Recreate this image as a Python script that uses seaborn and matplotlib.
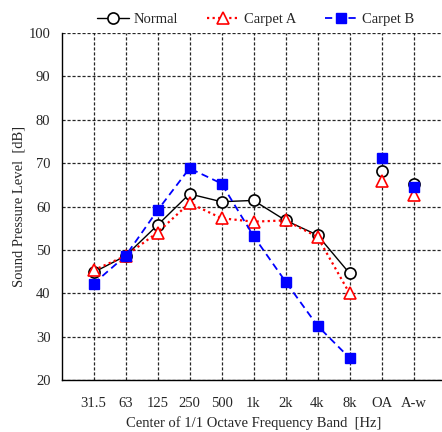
import numpy as np
import pandas as pd
import matplotlib
matplotlib.use("Agg")
import matplotlib.pyplot as plt
import seaborn as sns

# band labels
bands = ["31.5", "63", "125", "250", "500", "1k", "2k", "4k", "8k"]
totals = ["OA", "A-w"]

# sound pressure levels [dB]
normal = [44.8, 48.6, 55.7, 62.9, 61.1, 61.4, 56.8, 53.4, 44.6]
carpet_a = [45.3, 48.6, 54.0, 60.8, 57.3, 56.5, 56.8, 53.0, 40.0]
carpet_b = [42.2, 48.6, 59.1, 68.8, 65.3, 53.2, 42.7, 32.5, 25.1]

normal_tot = [68.1, 65.2]
carpet_a_tot = [65.8, 62.7]
carpet_b_tot = [71.2, 64.4]

sns.set_style("white")
plt.rcParams["font.family"] = ["Liberation Serif", "DejaVu Serif"]

fig = plt.figure(figsize=(4.42, 4.32), dpi=100)
ax = fig.add_axes([61.5 / 442, 52 / 432, 384 / 442, 347 / 432])

labels = bands + totals
x_band = np.arange(len(bands))
x_tot = np.arange(len(bands), len(labels))

series = [
    ("Normal", normal, normal_tot, dict(color="black", linestyle="-", linewidth=1.0,
                                         marker="o", markersize=8, markerfacecolor="white",
                                         markeredgecolor="black", markeredgewidth=1.2)),
    ("Carpet A", carpet_a, carpet_a_tot, dict(color="red", linestyle=(0, (1, 1.5)), linewidth=1.6,
                                               marker="^", markersize=8, markerfacecolor="white",
                                               markeredgecolor="red", markeredgewidth=1.2)),
    ("Carpet B", carpet_b, carpet_b_tot, dict(color="blue", linestyle=(0, (4, 2.5)), linewidth=1.3,
                                               marker="s", markersize=7, markerfacecolor="blue",
                                               markeredgecolor="blue", markeredgewidth=1.0)),
]

for name, vals, tot, st in series:
    sns.lineplot(x=x_band, y=vals, ax=ax, label=name, **st)
    # overall / A-weighted values are shown as separate points
    pt = dict(st)
    pt["linestyle"] = "none"
    ax.plot(x_tot, tot, **pt)

ax.set_xlim(-1, 11)
ax.set_ylim(20, 100)
ax.set_xticks(np.arange(len(labels)))
ax.set_xticklabels(labels)
ax.set_yticks(np.arange(20, 101, 10))
ax.tick_params(axis="x", length=0, labelsize=10.5, pad=12)
ax.tick_params(axis="y", length=0, labelsize=10.5, pad=8)

ax.grid(True, color="black", linestyle=(0, (2.5, 1.5)), linewidth=0.9, alpha=0.85)
ax.set_axisbelow(True)
for s in ["top", "right"]:
    ax.spines[s].set_visible(False)
for s in ["left", "bottom"]:
    ax.spines[s].set_color("black")
    ax.spines[s].set_linewidth(1.0)

ax.set_xlabel("Center of 1/1 Octave Frequency Band  [Hz]", fontsize=10.5, labelpad=5)
ax.set_ylabel("Sound Pressure Level  [dB]", fontsize=10.5, labelpad=2)

ax.legend(loc="lower center", bbox_to_anchor=(0.505, 1.0), ncol=3, frameon=False,
          fontsize=10.5, handlelength=2.2, columnspacing=2.0, handletextpad=0.3,
          borderaxespad=0.1)

fig.savefig("out.png", dpi=100)
